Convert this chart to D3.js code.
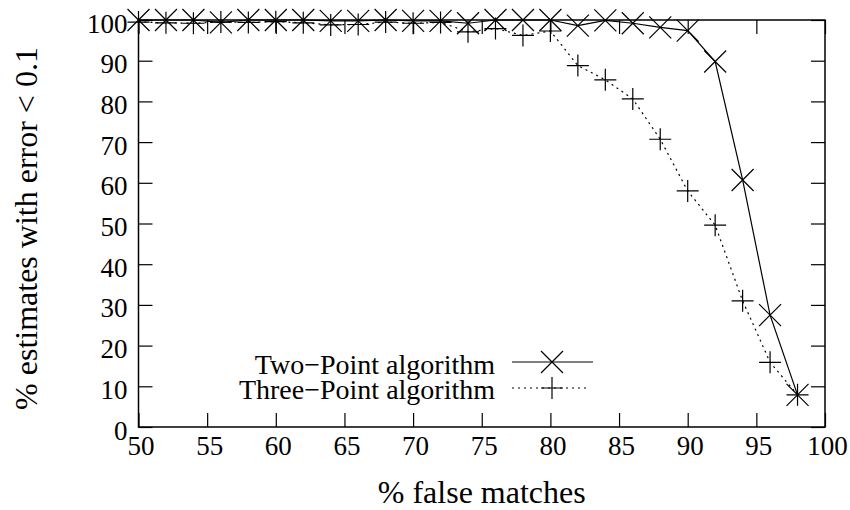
<!DOCTYPE html>
<html>
<head>
<meta charset="utf-8">
<script src="https://cdn.jsdelivr.net/npm/d3@7"></script>
<style>
  body { margin: 0; background: #fff; }
  svg { display: block; font-family: "Liberation Serif", "Times New Roman", serif; }
</style>
</head>
<body>
<div id="chart"></div>
<script>
// % false matches
var falseMatches = [50, 52, 54, 56, 58, 60, 62, 64, 66, 68, 70, 72, 74,
                    76, 78, 80, 82, 84, 86, 88, 90, 92, 94, 96, 98]

// % estimates with error < 0.1
var twoPoint = [100, 100, 100, 99.4, 100, 100, 100, 99.8, 99.8, 100, 99.8, 99.8, 99.2,
                100, 100, 100, 98.6, 99.9, 99.2, 98.2, 97.4, 89.8, 60.7, 27.5, 7.9]
var threePoint = [99.5, 99.3, 99.2, 99.5, 99.4, 99.6, 99.3, 98.8, 98.9, 99.5, 99.2, 99.4, 97.1,
                  97.9, 96.2, 97.3, 88.8, 85.3, 80.6, 70.7, 58, 49.6, 31, 15.9, 7.9]

var xTicks = [50, 55, 60, 65, 70, 75, 80, 85, 90, 95, 100]
var yTicks = [0, 10, 20, 30, 40, 50, 60, 70, 80, 90, 100]

var seriesNames = ['Two\u2212Point algorithm', 'Three\u2212Point algorithm']

var width = 850, height = 510
var margin = { left: 138.5, right: 825, top: 20, bottom: 427 }
var tickLen = 14

var svg = d3.select('#chart').append('svg')
  .attr('width', width)
  .attr('height', height)

var x = d3.scaleLinear().domain([50, 100]).range([margin.left, margin.right])
var y = d3.scaleLinear().domain([0, 100]).range([margin.bottom, margin.top])

// axes, gnuplot style: inward ticks mirrored on all four sides
function styleAxis (g) {
  g.attr('font-family', null).attr('font-size', null)
  g.select('.domain').remove()
  g.selectAll('.tick line').attr('stroke', '#000').attr('stroke-width', 1.2)
}

svg.append('g')
  .attr('transform', 'translate(0,' + margin.bottom + ')')
  .call(d3.axisBottom(x).tickValues(xTicks).tickSize(-tickLen))
  .call(styleAxis)
  .call(function (g) {
    g.selectAll('.tick text')
      .attr('x', 2).attr('y', 28).attr('dy', null)
      .attr('font-size', 27).attr('fill', '#000')
  })

svg.append('g')
  .attr('transform', 'translate(0,' + margin.top + ')')
  .call(d3.axisTop(x).tickValues(xTicks).tickSize(-tickLen).tickFormat(''))
  .call(styleAxis)

svg.append('g')
  .attr('transform', 'translate(' + margin.left + ',0)')
  .call(d3.axisLeft(y).tickValues(yTicks).tickSize(-tickLen))
  .call(styleAxis)
  .call(function (g) {
    g.selectAll('.tick text')
      .attr('x', -11).attr('dy', 12)
      .attr('font-size', 27).attr('fill', '#000')
  })

svg.append('g')
  .attr('transform', 'translate(' + margin.right + ',0)')
  .call(d3.axisRight(y).tickValues(yTicks).tickSize(-tickLen).tickFormat(''))
  .call(styleAxis)

// frame
svg.append('rect')
  .attr('x', margin.left).attr('y', margin.top)
  .attr('width', margin.right - margin.left).attr('height', margin.bottom - margin.top)
  .attr('fill', 'none').attr('stroke', '#000').attr('stroke-width', 1.5)

// axis titles
svg.append('text')
  .attr('x', (margin.left + margin.right) / 2).attr('y', 503)
  .attr('text-anchor', 'middle').attr('font-size', 32)
  .text('% false matches')

svg.append('text')
  .attr('transform', 'translate(37,' + ((margin.top + margin.bottom) / 2 + 5) + ') rotate(-90)')
  .attr('text-anchor', 'middle').attr('font-size', 32)
  .text('% estimates with error < 0.1')

// series
var line = d3.line()
  .x(function (d) { return x(d[0]) })
  .y(function (d) { return y(d[1]) })

var crossPath = function (s) { return 'M' + -s + ',' + -s + 'L' + s + ',' + s + 'M' + -s + ',' + s + 'L' + s + ',' + -s }
var plusPath = function (s) { return 'M' + -s + ',0L' + s + ',0M0,' + -s + 'L0,' + s }

var series = [
  { name: seriesNames[0], values: twoPoint, dash: null, marker: crossPath(11) },
  { name: seriesNames[1], values: threePoint, dash: '2,4', marker: plusPath(11) }
]

series.forEach(function (s, i) {
  var pts = falseMatches.map(function (m, j) { return [m, s.values[j]] })
  svg.append('path')
    .datum(pts)
    .attr('d', line)
    .attr('fill', 'none')
    .attr('stroke', '#000')
    .attr('stroke-width', 1.2)
    .attr('stroke-dasharray', s.dash)

  svg.append('g').selectAll('path')
    .data(pts)
    .join('path')
    .attr('transform', function (d) { return 'translate(' + x(d[0]) + ',' + y(d[1]) + ')' })
    .attr('d', s.marker)
    .attr('fill', 'none')
    .attr('stroke', '#000')
    .attr('stroke-width', 1.2)

  // legend entry
  var ly = i === 0 ? 362 : 388
  svg.append('text')
    .attr('x', 495).attr('y', ly + (i === 0 ? 12 : 11))
    .attr('text-anchor', 'end').attr('font-size', 28)
    .text(s.name)
  svg.append('line')
    .attr('x1', 512).attr('x2', i === 0 ? 593 : 588)
    .attr('y1', ly).attr('y2', ly)
    .attr('stroke', '#000').attr('stroke-width', 1.2)
    .attr('stroke-dasharray', s.dash)
  svg.append('path')
    .attr('transform', 'translate(552,' + ly + ')')
    .attr('d', s.marker)
    .attr('fill', 'none').attr('stroke', '#000').attr('stroke-width', 1.2)
})
</script>
</body>
</html>
